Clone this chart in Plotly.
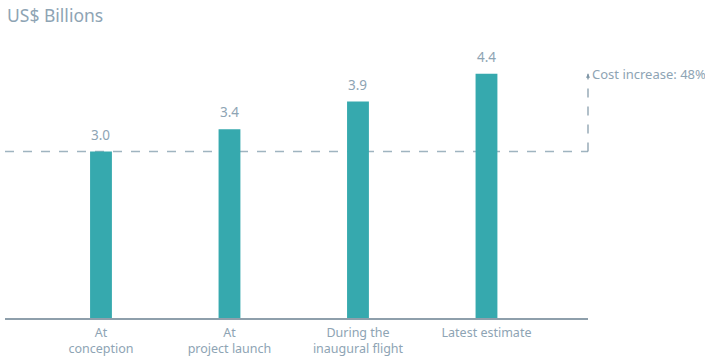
import plotly.graph_objects as go

categories = ["At<br>conception", "At<br>project launch", "During the<br>inaugural flight", "Latest estimate"]
values = [3.0, 3.4, 3.9, 4.4]
value_labels = ["3.0", "3.4", "3.9", "4.4"]
increase_label = "Cost increase: 48%"
title_text = "US$ Billions"

teal = "#36A9AE"
txt = "#8EA4B4"
axis_col = "#8E9FAB"
dash_col = "#9FB4C0"
font = "Noto Sans"

xs = list(range(len(categories)))

fig = go.Figure()
fig.add_trace(go.Bar(
    x=xs, y=values,
    marker=dict(color=teal, line=dict(width=0)),
    width=0.17,
))

for xi, v, lab in zip(xs, values, value_labels):
    fig.add_annotation(x=xi, y=v, xref="x", yref="y", text=lab, showarrow=False,
                       yanchor="bottom", yshift=6,
                       font=dict(color=txt, size=13.5, family=font))

# baseline dashed line at first value
fig.add_shape(type="line", xref="paper", yref="y", x0=0, x1=1, y0=values[0], y1=values[0],
              line=dict(color=dash_col, width=1.5, dash="dash"), layer="below")
# vertical dashed line
fig.add_shape(type="line", xref="paper", yref="y", x0=1, x1=1, y0=values[0], y1=values[-1],
              line=dict(color="#7F96A6", width=1.2, dash="dash"))
fig.add_annotation(xref="paper", yref="y", x=1, y=values[-1], ax=0, ay=6,
                   axref="pixel", ayref="pixel", showarrow=True, arrowhead=2, arrowsize=0.8,
                   arrowwidth=1, arrowcolor="#7F96A6", text="")
fig.add_annotation(xref="paper", yref="y", x=1, y=values[-1], xanchor="left", yanchor="middle",
                   xshift=2, showarrow=False, text=increase_label,
                   font=dict(color=txt, size=13, family=font))

fig.add_annotation(xref="paper", yref="paper", x=0, y=1, xanchor="left", yanchor="bottom",
                   yshift=-9, showarrow=False, text=title_text,
                   font=dict(color=txt, size=17.5, family=font))

fig.update_layout(
    width=705, height=358,
    margin=dict(l=5, r=117, t=20, b=40),
    paper_bgcolor="white", plot_bgcolor="white",
    showlegend=False,
    xaxis=dict(range=[-0.747, 3.79], tickmode="array", tickvals=xs,
               ticktext=categories, showgrid=False, zeroline=False,
               showline=True, linecolor=axis_col, linewidth=1.5, ticks="",
               ticklabelstandoff=2, automargin=False,
               tickfont=dict(color=txt, size=12.5, family=font)),
    yaxis=dict(range=[0, 5.37], visible=False, showgrid=False, zeroline=False,
               automargin=False),
)

fig.write_html("out.html")
